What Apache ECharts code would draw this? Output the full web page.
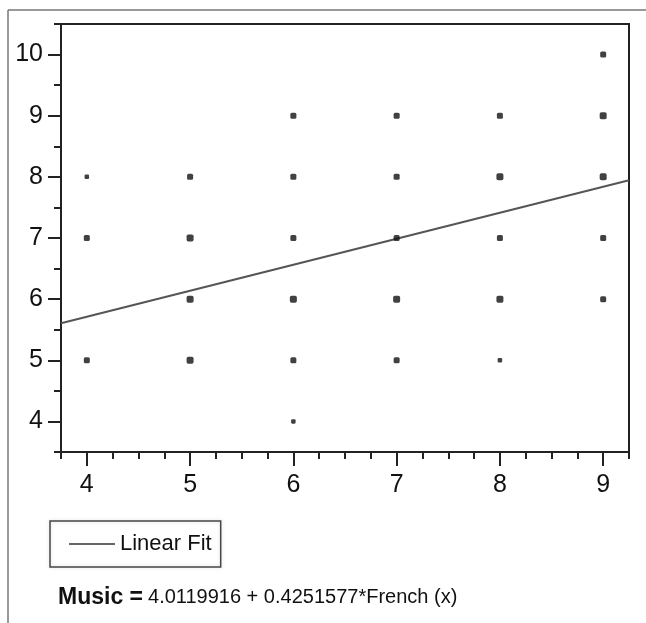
<!DOCTYPE html>
<html>
<head>
<meta charset="utf-8">
<script src="https://cdn.jsdelivr.net/npm/echarts@6/dist/echarts.min.js"></script>
<style>
html,body{margin:0;padding:0;background:#fff;}
#chart{width:646px;height:623px;}
</style>
</head>
<body>
<div id="chart"></div>
<script>
// ---- data ----
const frenchX = [4,4,4, 5,5,5,5, 6,6,6,6,6,6, 7,7,7,7,7, 8,8,8,8,8, 9,9,9,9,9];
const musicY  = [8,7,5, 8,7,6,5, 9,8,7,6,5,4, 9,8,7,6,5, 9,8,7,6,5, 10,9,8,7,6];
const overlap = [1,2,2, 2,3,3,3, 2,2,2,3,2,1, 2,2,2,3,2, 2,3,2,3,1, 2,3,3,2,2];
const fitLine = [[3.75, 5.606], [9.25, 7.944]];
const intercept = '4.0119916';
const slope = '0.4251577';
const xTickLabels = [4,5,6,7,8,9];
const yTickLabels = [4,5,6,7,8,9,10];
const xRange = [3.75, 9.25];
const yRange = [3.5, 10.5];

const points = frenchX.map((x, i) => [x, musicY[i], overlap[i]]);
function minorTicks(r, step){ const a=[]; for(let v=r[0]; v<=r[1]+1e-9; v+=step) a.push(+v.toFixed(4)); return a; }

const axisColor = '#222';
const FONT = 'Liberation Sans, Arial, Helvetica, sans-serif';
const labelFont = {fontFamily:FONT, fontSize:25, color:'#111'};

const chart = echarts.init(document.getElementById('chart'), null, {renderer:'canvas'});
chart.setOption({
  animation:false,
  backgroundColor:'#fff',
  grid:{left:61, top:24, right:17, bottom:171, show:true, borderColor:axisColor, borderWidth:2},
  xAxis:[
    {type:'value', min:xRange[0], max:xRange[1], gridIndex:0,
     axisLine:{show:true, lineStyle:{color:axisColor, width:2}},
     axisTick:{show:true, length:14, customValues:xTickLabels, lineStyle:{color:axisColor, width:2}},
     axisLabel:Object.assign({customValues:xTickLabels, margin:21}, labelFont),
     splitLine:{show:false}},
    {type:'value', min:xRange[0], max:xRange[1], gridIndex:0, position:'bottom',
     axisLine:{show:false},
     axisTick:{show:true, length:7, customValues:minorTicks(xRange,0.25), lineStyle:{color:axisColor, width:2}},
     axisLabel:{show:false}, splitLine:{show:false}}
  ],
  yAxis:[
    {type:'value', min:yRange[0], max:yRange[1], gridIndex:0,
     axisLine:{show:true, lineStyle:{color:axisColor, width:2}},
     axisTick:{show:true, length:13, customValues:yTickLabels, lineStyle:{color:axisColor, width:2}},
     axisLabel:Object.assign({customValues:yTickLabels, margin:18}, labelFont),
     splitLine:{show:false}},
    {type:'value', min:yRange[0], max:yRange[1], gridIndex:0, position:'left',
     axisLine:{show:false},
     axisTick:{show:true, length:7, customValues:minorTicks(yRange,0.5), lineStyle:{color:axisColor, width:2}},
     axisLabel:{show:false}, splitLine:{show:false}}
  ],
  legend:{
    show:true, left:50, top:521, orient:'horizontal',
    data:[{name:'Linear Fit', icon:'rect'}],
    itemWidth:46, itemHeight:2, itemGap:0,
    padding:[12,9,12,19],
    borderColor:'#444', borderWidth:1.5, borderRadius:0,
    shadowBlur:4, shadowColor:'rgba(0,0,0,0.15)',
    textStyle:{fontFamily:FONT, fontSize:22, color:'#111'},
    itemStyle:{color:'#666'}
  },
  title:{
    left:58, top:586, padding:0,
    text:'{b|Music =} {n|' + intercept + ' + ' + slope + '*French (x)}',
    textStyle:{fontWeight:'normal', rich:{
      b:{fontFamily:FONT, fontWeight:'bold', fontSize:23, color:'#111'},
      n:{fontFamily:FONT, fontWeight:'normal', fontSize:20, color:'#111'}
    }}
  },
  graphic:[
    {type:'line', shape:{x1:8, y1:10, x2:646, y2:10}, style:{stroke:'#777', lineWidth:1.5}},
    {type:'line', shape:{x1:8, y1:10, x2:8, y2:623}, style:{stroke:'#777', lineWidth:1.5}}
  ],
  series:[
    {name:'Linear Fit', type:'line', xAxisIndex:0, yAxisIndex:0, data:fitLine,
     showSymbol:false, symbol:'none', lineStyle:{color:'#555', width:2}, itemStyle:{color:'#555'}, z:3},
    {name:'Points', type:'scatter', xAxisIndex:0, yAxisIndex:0, data:points,
     symbol:'roundRect', symbolSize:function(v){ return v[2]>=3 ? 7 : (v[2]==2 ? 6 : 4.5); },
     itemStyle:{color:'#111'}, z:4}
  ]
});
</script>
</body>
</html>
